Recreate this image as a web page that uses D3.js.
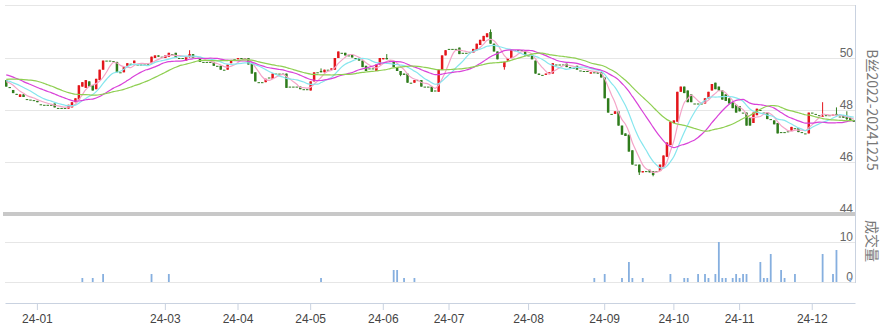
<!DOCTYPE html>
<html>
<head>
<meta charset="utf-8">
<script src="https://cdn.jsdelivr.net/npm/d3@7"></script>
<style>
  body { margin: 0; background: #fff; }
  svg { display: block; font-family: "Noto Sans CJK SC", "Liberation Sans", sans-serif; }
</style>
</head>
<body>
<script>
// ---- data ----
// closes before the first visible candle, only used to seed the moving averages
var prevCloses = [48.5, 48.6, 48.6, 48.7, 48.8, 48.7, 48.7, 48.8, 48.9, 49.1,
                  49.4, 49.6, 49.7, 49.6, 49.7, 49.8, 49.6, 49.5, 49.5, 49.4,
                  49.3, 49.2, 49.2, 49.1, 49.2, 49.2, 49.1, 49.1, 49.2, 49.15];

var open = [49.15, 48.88, 48.77, 48.62, 48.5, 48.6, 48.42, 48.4, 48.38, 48.35,
  48.22, 48.2, 48.2, 48.2, 48.25, 48.08, 48.08, 48.08, 48.05, 48.1,
  48.3, 48.4, 48.9, 48.85, 49.1, 48.95, 48.8, 49.15, 49.55, 49.9,
  49.9, 49.88, 49.85, 49.45, 49.45, 49.7, 49.78, 49.8, 49.75, 49.75,
  49.75, 49.78, 49.8, 50.0, 50.1, 50.05, 50.0, 50.05, 50.15, 50.2,
  50.0, 50.0, 49.9, 50.05, 50.15, 50.0, 50.0, 49.85, 49.85, 49.85,
  49.85, 49.7, 49.7, 49.55, 49.55, 49.8, 49.95, 49.95, 50.0, 50.0,
  50.0, 49.8, 49.45, 49.07, 49.07, 49.07, 49.25, 49.2, 49.4, 49.4,
  49.4, 49.4, 48.9, 48.9, 48.9, 48.9, 48.8, 48.8, 48.75, 49.1,
  49.45, 49.5, 49.45, 49.55, 49.55, 49.55, 50.0, 50.2, 50.2, 50.1,
  50.12, 50.0, 50.0, 49.9, 49.7, 49.6, 49.6, 49.5, 49.75, 49.95,
  50.0, 49.9, 49.85, 49.65, 49.5, 49.4, 49.4, 49.05, 49.05, 49.15,
  49.15, 48.9, 48.9, 48.9, 48.75, 48.7, 49.55, 50.1, 50.35, 50.35,
  50.35, 50.4, 50.2, 50.2, 50.22, 50.2, 50.3, 50.5, 50.65, 50.8,
  51.0, 50.55, 50.25, 49.85, 49.65, 49.9, 50.0, 50.3, 50.3, 50.3,
  50.27, 50.1, 50.1, 49.9, 49.4, 49.35, 49.35, 49.38, 49.4, 49.75,
  49.75, 49.75, 49.78, 49.65, 49.62, 49.7, 49.52, 49.5, 49.5, 49.4,
  49.45, 49.45, 49.45, 49.25, 48.45, 47.85, 47.85, 47.95, 47.4, 47.1,
  47.05, 46.45, 45.9, 45.9, 45.6, 45.65, 45.7, 45.65, 45.65, 45.65,
  45.8, 46.2, 46.65, 47.5, 47.55, 48.7, 48.9, 48.75, 48.6, 48.25,
  48.25, 48.25, 48.25, 48.45, 48.75, 49.05, 48.9, 48.75, 48.6, 48.45,
  48.3, 48.2, 48.15, 47.9, 47.9, 47.7, 47.5, 47.8, 48.0, 47.9,
  47.9, 47.65, 47.6, 47.5, 47.15, 47.15, 47.18, 47.2, 47.3, 47.3,
  47.15, 47.1, 47.1, 47.9, 47.85, 47.8, 47.75, 47.8, 47.8, 47.8,
  47.85, 47.75, 47.8, 47.75, 47.7, 47.6];

var close = [48.9, 48.85, 48.65, 48.6, 48.6, 48.5, 48.42, 48.4, 48.38, 48.3,
  48.22, 48.2, 48.2, 48.2, 48.1, 48.08, 48.08, 48.08, 48.2, 48.3,
  48.45, 48.95, 49.07, 49.15, 48.9, 48.75, 49.2, 49.55, 49.9, 49.9,
  49.9, 49.88, 49.45, 49.45, 49.65, 49.8, 49.78, 49.9, 49.75, 49.75,
  49.75, 49.78, 50.05, 50.1, 50.05, 50.05, 50.1, 50.2, 50.15, 50.0,
  50.0, 50.0, 50.05, 50.15, 50.0, 50.0, 49.85, 49.85, 49.85, 49.85,
  49.7, 49.7, 49.55, 49.55, 49.75, 49.9, 49.95, 50.0, 50.0, 50.0,
  49.75, 49.4, 49.1, 49.07, 49.07, 49.2, 49.25, 49.4, 49.4, 49.4,
  49.4, 48.85, 48.9, 48.9, 48.9, 48.8, 48.8, 48.8, 49.1, 49.45,
  49.45, 49.45, 49.55, 49.55, 49.6, 50.0, 50.25, 50.2, 50.1, 50.1,
  50.02, 50.0, 49.9, 49.65, 49.5, 49.6, 49.6, 49.75, 50.0, 50.0,
  49.95, 49.9, 49.65, 49.5, 49.35, 49.35, 49.05, 49.05, 49.15, 49.15,
  48.9, 48.9, 48.9, 48.7, 48.75, 49.55, 50.1, 50.3, 50.35, 50.35,
  50.35, 50.15, 50.2, 50.2, 50.22, 50.35, 50.55, 50.7, 50.85, 50.95,
  50.55, 50.25, 49.95, 49.85, 49.85, 50.0, 50.3, 50.3, 50.3, 50.3,
  50.1, 50.1, 49.95, 49.4, 49.35, 49.35, 49.4, 49.45, 49.8, 49.75,
  49.75, 49.75, 49.65, 49.65, 49.62, 49.55, 49.52, 49.5, 49.5, 49.45,
  49.45, 49.4, 49.25, 48.45, 47.9, 47.85, 47.95, 47.4, 47.05, 47.0,
  46.4, 45.9, 45.9, 45.6, 45.65, 45.65, 45.6, 45.5, 45.65, 45.9,
  46.25, 46.75, 47.55, 47.6, 48.7, 48.9, 48.65, 48.3, 48.3, 48.25,
  48.25, 48.25, 48.45, 48.7, 49.0, 48.8, 48.75, 48.4, 48.35, 48.25,
  48.07, 47.9, 47.95, 47.9, 47.4, 47.4, 47.9, 48.05, 48.0, 47.9,
  47.65, 47.65, 47.45, 47.1, 47.15, 47.15, 47.18, 47.35, 47.3, 47.15,
  47.15, 47.1, 47.9, 47.9, 47.85, 47.8, 47.78, 47.8, 47.8, 47.82,
  47.8, 47.75, 47.7, 47.65, 47.6, 47.55];

// candles with visible shadows beyond the body
var wickIdx  = [53, 91, 110, 114, 140, 144, 183, 187, 236, 240, 243];
var wickHigh = [50.3, 49.6, 50.15, 49.5, 51.1, 49.85, 45.9, 45.65, 48.3, 48.1, 47.95];
var wickLow  = [50.0, 49.45, 49.95, 49.3, 50.55, 49.55, 45.5, 45.45, 47.75, 47.8, 47.6];

// volume (only the days that traded)
var volIdx    = [22, 25, 28, 42, 47, 91, 112, 113, 115, 118, 170, 173, 178, 180, 181, 184,
                 192, 196, 197, 200, 202, 203, 205, 206, 207, 208, 210, 211, 212, 213, 214,
                 218, 219, 220, 221, 224, 225, 228, 236, 239, 240, 244];
var volAmount = [1, 1, 2, 2, 2, 1, 3, 3, 1, 1, 1, 2, 1, 5, 1, 1,
                 2, 1, 1, 2, 2, 1, 2, 10, 1, 1, 1, 2, 1, 2, 2,
                 5, 1, 1, 7, 3, 1, 2, 7, 2, 8, 1];

var monthIdx    = [9, 46, 67, 88, 109, 128, 151, 173, 193, 212, 233];
var monthLabels = ["24-01", "24-03", "24-04", "24-05", "24-06", "24-07",
                   "24-08", "24-09", "24-10", "24-11", "24-12"];

var priceTicks = [44, 46, 48, 50];
var volTicks = [0, 10];
var maPeriods = [5, 10, 20, 30];
var maColors = ["#f4a4c8", "#86e6ee", "#d942d9", "#8fcf52"];

// ---- layout ----
var width = 887, height = 332;
var left = 5, right = 855;
var N = close.length;

var svg = d3.select("body").append("svg")
            .attr("width", width)
            .attr("height", height);

var x = d3.scaleBand()
          .domain(d3.range(N))
          .range([left, right])
          .paddingInner(0.28)
          .paddingOuter(0);
var bw = x.bandwidth();
var cx = function(i) { return x(i) + bw / 2; };

var y = d3.scaleLinear().domain([44, 52]).range([214, 6]);
var yv = d3.scaleLinear().domain([0, 10]).range([282, 242]);

var red = "#e3151b", green = "#2f7c1c";
var axisColor = "#c9d2e0", gridColor = "#e6e6e6", textColor = "#666";

svg.append("defs").append("clipPath").attr("id", "plot")
   .append("rect").attr("x", left).attr("y", 5).attr("width", right - left).attr("height", 207);

// top border
svg.append("line")
   .attr("x1", left).attr("x2", right).attr("y1", 5.5).attr("y2", 5.5)
   .attr("stroke", gridColor);

// price grid + labels
var yAxis = d3.axisRight(y).tickValues(priceTicks).tickSize(right - left).tickFormat(d3.format("d"));
var gy = svg.append("g").attr("transform", "translate(" + left + ",0)").call(yAxis);
gy.select(".domain").remove();
gy.selectAll("line").attr("stroke", gridColor);
gy.selectAll("text")
  .attr("x", right - left - 2).attr("dy", "-2px")
  .attr("text-anchor", "end").attr("font-size", "12px").attr("fill", textColor);

// volume grid + labels
var vAxis = d3.axisRight(yv).tickValues(volTicks).tickSize(right - left).tickFormat(d3.format("d"));
var gv = svg.append("g").attr("transform", "translate(" + left + ",0)").call(vAxis);
gv.select(".domain").remove();
gv.selectAll("line").attr("stroke", gridColor);
gv.selectAll("text")
  .attr("x", right - left - 2).attr("dy", "-2px")
  .attr("text-anchor", "end").attr("font-size", "12px").attr("fill", textColor);

// separator between price and volume panels
svg.append("rect")
   .attr("x", 3).attr("y", 212).attr("width", right - 3).attr("height", 4)
   .attr("fill", "#c8c8c8");

// candles
var plot = svg.append("g").attr("clip-path", "url(#plot)");
var candles = plot.selectAll("g.candle")
  .data(d3.range(N))
  .enter().append("g").attr("class", "candle");

var hi = function(i) {
  var k = wickIdx.indexOf(i);
  return k >= 0 ? Math.max(wickHigh[k], open[i], close[i]) : Math.max(open[i], close[i]);
};
var lo = function(i) {
  var k = wickIdx.indexOf(i);
  return k >= 0 ? Math.min(wickLow[k], open[i], close[i]) : Math.min(open[i], close[i]);
};
var col = function(i) { return close[i] > open[i] ? red : green; };

candles.append("line")
  .attr("x1", function(i) { return cx(i); })
  .attr("x2", function(i) { return cx(i); })
  .attr("y1", function(i) { return y(hi(i)); })
  .attr("y2", function(i) { return y(lo(i)); })
  .attr("stroke", col)
  .attr("stroke-width", 1);

candles.append("rect")
  .attr("x", function(i) { return x(i); })
  .attr("width", bw)
  .attr("y", function(i) { return y(Math.max(open[i], close[i])); })
  .attr("height", function(i) { return Math.max(1, Math.abs(y(open[i]) - y(close[i]))); })
  .attr("fill", col);

// moving averages
var allCloses = prevCloses.concat(close);
var off = prevCloses.length;
maPeriods.forEach(function(p, k) {
  var ma = d3.range(N).map(function(i) {
    return d3.mean(allCloses.slice(off + i - p + 1, off + i + 1));
  });
  var line = d3.line()
               .x(function(d, i) { return cx(i); })
               .y(function(d) { return y(d); })
               .curve(d3.curveMonotoneX);
  plot.append("path")
      .datum(ma)
      .attr("d", line)
      .attr("fill", "none")
      .attr("stroke", maColors[k])
      .attr("stroke-width", 1.2);
});

// volume bars
svg.selectAll("rect.vol")
   .data(volIdx)
   .enter().append("rect")
   .attr("class", "vol")
   .attr("x", function(d) { return cx(d) - 0.9; })
   .attr("width", 1.8)
   .attr("y", function(d, k) { return yv(volAmount[k]); })
   .attr("height", function(d, k) { return yv(0) - yv(volAmount[k]); })
   .attr("fill", "#86afdf");

// right border
svg.append("line")
   .attr("x1", right + 0.5).attr("x2", right + 0.5).attr("y1", 5).attr("y2", 283)
   .attr("stroke", axisColor);

// x axis
var xAxis = d3.axisBottom(x)
              .tickValues(monthIdx)
              .tickFormat(function(d, i) { return monthLabels[i]; })
              .tickSizeInner(7).tickSizeOuter(0).tickPadding(4);
var gx = svg.append("g").attr("transform", "translate(0,303)").call(xAxis);
gx.select(".domain").attr("stroke", axisColor);
gx.selectAll("line").attr("stroke", axisColor);
gx.selectAll("text").attr("font-size", "12px").attr("fill", "#444");

// side titles
svg.append("text")
   .attr("transform", "translate(867,110) rotate(90)")
   .attr("text-anchor", "middle")
   .attr("font-size", "14px")
   .attr("fill", "#777")
   .text("B丝2022-20241225");

svg.append("text")
   .attr("transform", "translate(867,241) rotate(90)")
   .attr("text-anchor", "middle")
   .attr("font-size", "14px")
   .attr("fill", "#777")
   .text("成交量");
</script>
</body>
</html>
